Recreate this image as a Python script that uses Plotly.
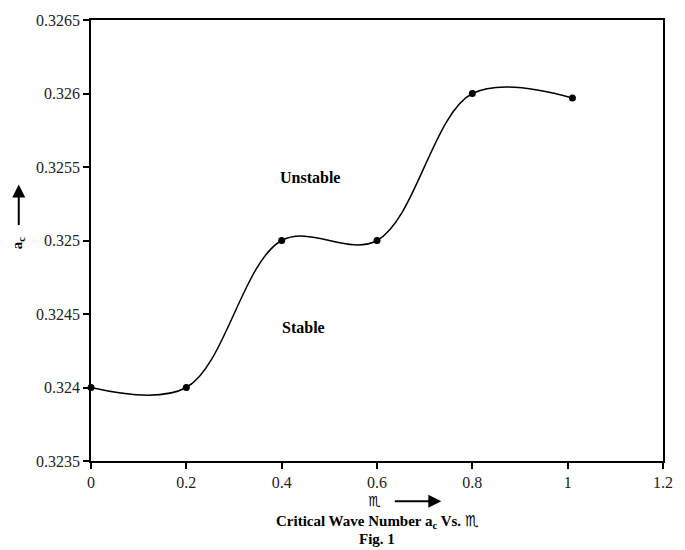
import plotly.graph_objects as go

# Data
m_values = [0.0, 0.2, 0.4, 0.6, 0.8, 1.01]
ac_values = [0.3240, 0.3240, 0.3250, 0.3250, 0.3260, 0.32597]

x_ticks = [0, 0.2, 0.4, 0.6, 0.8, 1.0, 1.2]
x_tick_labels = ["0", "0.2", "0.4", "0.6", "0.8", "1", "1.2"]
y_ticks = [0.3235, 0.3240, 0.3245, 0.3250, 0.3255, 0.3260, 0.3265]
y_tick_labels = ["0.3235", "0.324", "0.3245", "0.325", "0.3255", "0.326", "0.3265"]

region_labels = ["Unstable", "Stable"]
region_x = [0.46, 0.445]
region_y = [0.32543, 0.32441]

SERIF = "Liberation Serif, Times New Roman, serif"
SYM = "<span style=\"font-family:'DejaVu Sans'\">\u264F</span>"

fig = go.Figure()
fig.add_trace(go.Scatter(
    x=m_values, y=ac_values, mode="lines+markers",
    line=dict(color="black", width=1.5, shape="spline", smoothing=1.0),
    marker=dict(color="black", size=7),
    showlegend=False, cliponaxis=False,
))

for t, xx, yy in zip(region_labels, region_x, region_y):
    fig.add_annotation(x=xx, y=yy, xref="x", yref="y", text="<b>%s</b>" % t,
                       showarrow=False, xanchor="center", yanchor="middle",
                       font=dict(family=SERIF, size=16, color="black"))

# plot area: x 91..669 px, y 13..461 px
L, R, T, B = 91, 669, 13, 461
W, H = R - L, B - T
def px(x):
    return (x - L) / W
def py(y):
    return (B - y) / H

def label(xp, yp, text, family=SERIF, size=15, angle=0):
    fig.add_annotation(x=px(xp), y=py(yp), xref="paper", yref="paper", text=text,
                       showarrow=False, xanchor="center", yanchor="middle",
                       textangle=angle, font=dict(family=family, size=size, color="black"))

def arrow(x_tip, y_tip, dx, dy):
    fig.add_annotation(x=px(x_tip), y=py(y_tip), xref="paper", yref="paper", text="",
                       showarrow=True, ax=dx, ay=dy, arrowhead=2, arrowsize=1.3,
                       arrowwidth=2, arrowcolor="black")

# y-axis label and arrow
label(18, 239, "<b>a<sub>c</sub></b>", size=15, angle=-90)
arrow(18, 180, 0, 42)

# x-axis label and arrow
label(377, 502, "\u264F", family="DejaVu Sans", size=14)
arrow(445, 502, -48, 0)

label(380, 522, "<b>Critical Wave Number a<sub>c</sub> Vs. </b>" + SYM, size=15)
label(380, 540, "<b>Fig. 1</b>", size=15)

axis_common = dict(showgrid=False, zeroline=False, showline=True, linecolor="black",
                   linewidth=1.5, mirror=True, ticks="outside", ticklen=6,
                   tickcolor="black", tickwidth=1.5,
                   tickfont=dict(family=SERIF, size=16, color="#222"))
fig.update_xaxes(range=[0, 1.2], tickvals=x_ticks, ticktext=x_tick_labels, **axis_common)
fig.update_yaxes(range=[0.3235, 0.3265], tickvals=y_ticks, ticktext=y_tick_labels, **axis_common)

fig.update_layout(width=685, height=550, margin=dict(l=L, r=685 - R, t=T, b=550 - B),
                  plot_bgcolor="white", paper_bgcolor="white")

fig.write_html("out.html", config={"displayModeBar": False},
               post_script="document.body.style.margin='0px';document.body.style.overflow='hidden';")
